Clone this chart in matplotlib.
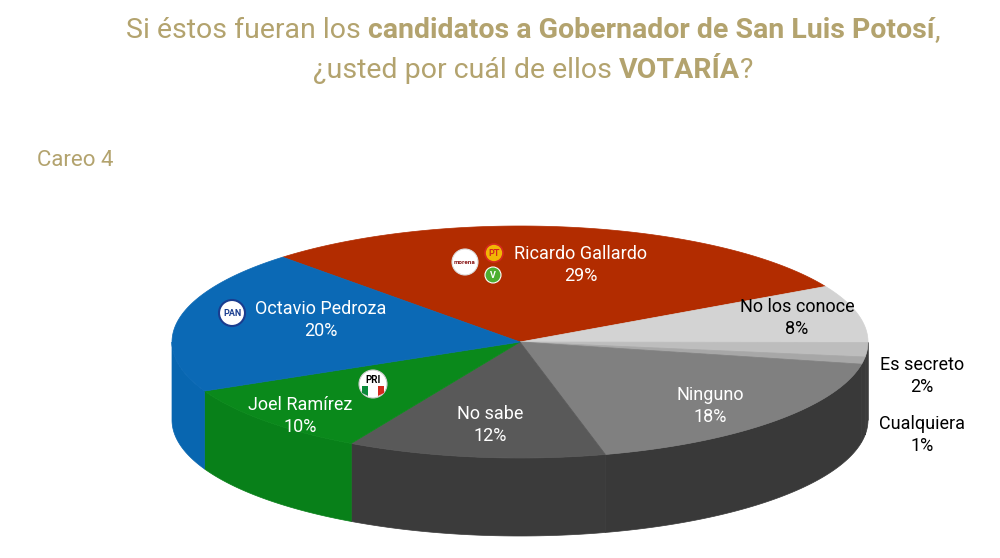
import numpy as np
import matplotlib.pyplot as plt
from matplotlib.patches import Polygon, Circle

# data (clockwise from the top-left red slice)
labels = ['Ricardo Gallardo', 'No los conoce', 'Es secreto', 'Cualquiera',
          'Ninguno', 'No sabe', 'Joel Ramírez', 'Octavio Pedroza']
values = [29, 8, 2, 1, 18, 12, 10, 20]

top_colors = ['#b22c00', '#d3d3d3', '#bdbdbd', '#a7a7a7',
              '#808080', '#595959', '#0a891b', '#0b69b5']
side_colors = ['#8a2200', '#3f3f3f', '#3c3c3c', '#3a3a3a',
               '#393939', '#3b3b3b', '#088019', '#0866b0']
text_colors = ['white', 'black', 'black', 'black', 'white', 'white', 'white', 'white']

# label anchor positions (pixels)
label_xy = {'Ricardo Gallardo': (581, 265), 'No los conoce': (797, 318),
            'Es secreto': (922, 376), 'Cualquiera': (922, 435),
            'Ninguno': (710, 406), 'No sabe': (490, 425),
            'Joel Ramírez': (300, 416), 'Octavio Pedroza': (321, 320)}

GOLD = '#b3a36e'
plt.rcParams['font.family'] = ['Roboto', 'DejaVu Sans']

fig = plt.figure(figsize=(10, 5.58), dpi=100)
ax = fig.add_axes([0, 0, 1, 1])
ax.set_xlim(0, 1000)
ax.set_ylim(558, 0)
ax.axis('off')

# pie geometry
cx, cy, a, b, depth = 520, 342, 348, 116, 78
start = 133.0
bounds = start - 360 * np.concatenate([[0], np.cumsum(values)]) / sum(values)


def ell(t, dz=0):
    r = np.radians(t)
    return np.column_stack([cx + a * np.cos(r), cy - b * np.sin(r) + dz])


# side walls (front half only)
for i in range(len(values)):
    t1, t2 = bounds[i + 1], bounds[i]
    for lo, hi in [(-180, 0), (-540, -360)]:
        s, e = max(t1, lo), min(t2, hi)
        if e <= s:
            continue
        t = np.linspace(s, e, 60)
        pts = np.vstack([ell(t), ell(t[::-1], depth)])
        ax.add_patch(Polygon(pts, closed=True, fc=side_colors[i], ec=side_colors[i], lw=0.5))

# top faces
for i in range(len(values)):
    t = np.linspace(bounds[i], bounds[i + 1], 120)
    pts = np.vstack([[cx, cy], ell(t)])
    ax.add_patch(Polygon(pts, closed=True, fc=top_colors[i], ec=top_colors[i], lw=0.5))

# labels
for i, lab in enumerate(labels):
    x, y = label_xy[lab]
    ax.text(x, y, f'{lab}\n{values[i]}%', ha='center', va='center', fontsize=13,
            color=text_colors[i], linespacing=1.25)

# party logos (simplified)
ax.add_patch(Circle((465, 262), 13, fc='white', ec='#dddddd', lw=0.8))
ax.text(465, 262, 'morena', ha='center', va='center', fontsize=4.5, color='#8b1a1a', weight='bold')
ax.add_patch(Circle((494, 253), 9, fc='#f2b705', ec='#d42a1e', lw=1.2))
ax.text(494, 254, 'PT', ha='center', va='center', fontsize=6.5, color='#d42a1e', weight='bold')
ax.add_patch(Circle((493, 275), 8, fc='#4caf30', ec='white', lw=0.8))
ax.text(493, 276, 'V', ha='center', va='center', fontsize=6.5, color='white', weight='bold')
ax.add_patch(Circle((232, 313), 13, fc='white', ec='#1a3d8f', lw=1.5))
ax.text(232, 314, 'PAN', ha='center', va='center', fontsize=6.5, color='#1a3d8f', weight='bold')
ax.add_patch(Circle((373, 384), 14, fc='white', ec='#cccccc', lw=0.8))
ax.add_patch(Polygon([[362, 386], [368, 386], [368, 396], [362, 393]], fc='#0a8a3a', ec='none'))
ax.add_patch(Polygon([[378, 386], [384, 386], [384, 393], [378, 396]], fc='#d42a1e', ec='none'))
ax.text(373, 380, 'PRI', ha='center', va='center', fontsize=7, color='black', weight='bold')


# title with mixed weights
def rich_line(parts, xc, y, size):
    fig.canvas.draw()
    r = fig.canvas.get_renderer()
    objs = []
    for txt, w in parts:
        objs.append(ax.text(0, y, txt, ha='left', va='center', fontsize=size,
                            color=GOLD, weight=w))
    widths = [o.get_window_extent(r).width for o in objs]
    x = xc - sum(widths) / 2
    for o, wd in zip(objs, widths):
        o.set_x(x)
        x += wd


rich_line([('Si éstos fueran los ', 'normal'),
           ('candidatos a Gobernador de San Luis Potosí', 'bold'),
           (',', 'normal')], 533, 31, 20.5)
rich_line([('¿usted por cuál de ellos ', 'normal'),
           ('VOTARÍA', 'bold'),
           ('?', 'normal')], 533, 70, 20.5)

ax.text(37, 160, 'Careo 4', ha='left', va='center', fontsize=16, color=GOLD)

fig.savefig('out.png', dpi=100)
